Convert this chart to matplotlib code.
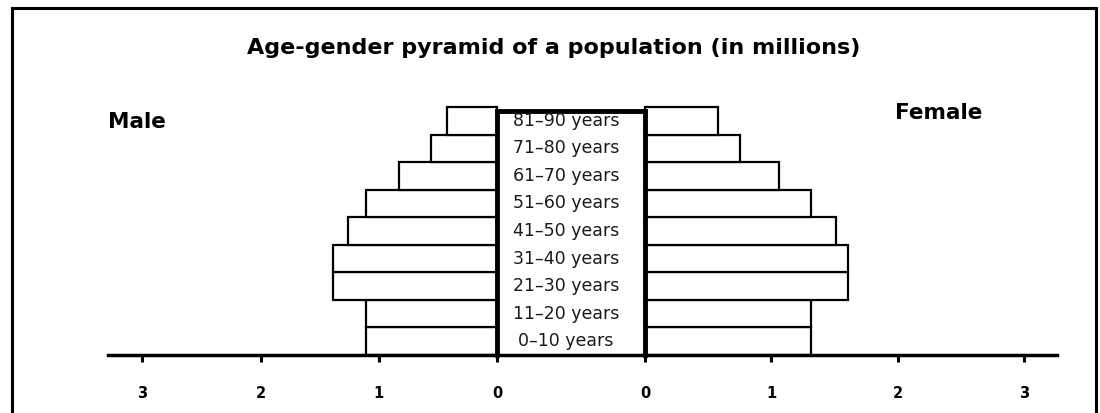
import matplotlib
matplotlib.use("Agg")
import matplotlib.pyplot as plt
import matplotlib.transforms as mtransforms
from matplotlib.lines import Line2D

# ── Data (millions) ───────────────────────────────────────────────────────────
age_groups = ["0–10 years", "11–20 years", "21–30 years", "31–40 years",
              "41–50 years", "51–60 years", "61–70 years", "71–80 years",
              "81–90 years"]
male   = [1.11, 1.11, 1.39, 1.39, 1.26, 1.11, 0.83, 0.56, 0.42]
female = [1.31, 1.31, 1.61, 1.61, 1.51, 1.31, 1.06, 0.75, 0.58]
ticks  = [0, 1, 2, 3]

W, H = 1100, 413
fig = plt.figure(figsize=(W / 100, H / 100), dpi=100)
fig.patch.set_facecolor("white")

def fx(px):
    return px / W

def fy(py):
    return 1 - py / H

base_y, top_y = 355, 107
ax_h = (base_y - top_y) / H
ax_b = fy(base_y)

ax_l = fig.add_axes([fx(108), ax_b, fx(497 - 108), ax_h])
ax_r = fig.add_axes([fx(645), ax_b, fx(1057 - 645), ax_h])
ax_c = fig.add_axes([fx(497), ax_b, fx(645 - 497), (base_y - 111) / H])

rows = list(range(len(age_groups)))

def style(ax):
    for s in ["top", "left", "right"]:
        ax.spines[s].set_visible(False)
    ax.spines["bottom"].set_linewidth(2.5)
    ax.set_ylim(-0.5, len(age_groups) - 0.5)
    ax.set_yticks([])
    ax.set_xticks(ticks)
    ax.set_xticklabels([str(t) for t in ticks], fontweight="bold", fontsize=10.5)
    ax.tick_params(axis="x", direction="out", length=5, width=2.2, pad=17)
    ax.patch.set_alpha(0)

# ── Male (left) ───────────────────────────────────────────────────────────────
bars = ax_l.barh(rows, male, height=1.0, color="white", edgecolor="black",
                 linewidth=1.6)
for b in bars:
    b.set_clip_on(False)
ax_l.set_xlim(3.29, 0)
style(ax_l)

# ── Female (right) ────────────────────────────────────────────────────────────
bars = ax_r.barh(rows, female, height=1.0, color="white", edgecolor="black",
                 linewidth=1.6)
for b in bars:
    b.set_clip_on(False)
ax_r.set_xlim(0, 3.26)
style(ax_r)

# ── Central label column ──────────────────────────────────────────────────────
ax_c.set_xticks([])
ax_c.set_yticks([])
for s in ["top", "left", "right"]:
    ax_c.spines[s].set_linewidth(3.5)
ax_c.spines["bottom"].set_linewidth(2.5)
ax_c.set_zorder(3)
ax_c.patch.set_facecolor("white")

trans = mtransforms.blended_transform_factory(fig.transFigure, ax_l.transData)
for r, lab in zip(rows, age_groups):
    fig.text(fx(566), r, lab, transform=trans, ha="center", va="center",
             fontsize=12.5, color="#1a1a1a", zorder=5)

# ── Titles ────────────────────────────────────────────────────────────────────
fig.text(fx(554), fy(48), "Age-gender pyramid of a population (in millions)",
         ha="center", va="center", fontsize=16, fontweight="bold")
fig.text(fx(108), fy(122), "Male", ha="left", va="center",
         fontsize=15.5, fontweight="bold")
fig.text(fx(895), fy(113), "Female", ha="left", va="center",
         fontsize=15.5, fontweight="bold")

# ── Outer frame ───────────────────────────────────────────────────────────────
for xs, ys in [([12, 12], [8, 413]), ([12, 1096], [8, 8]), ([1096, 1096], [8, 413])]:
    fig.add_artist(Line2D([fx(x) for x in xs], [fy(y) for y in ys],
                          color="black", linewidth=2.2))

plt.savefig("out.png", dpi=100, facecolor="white")
